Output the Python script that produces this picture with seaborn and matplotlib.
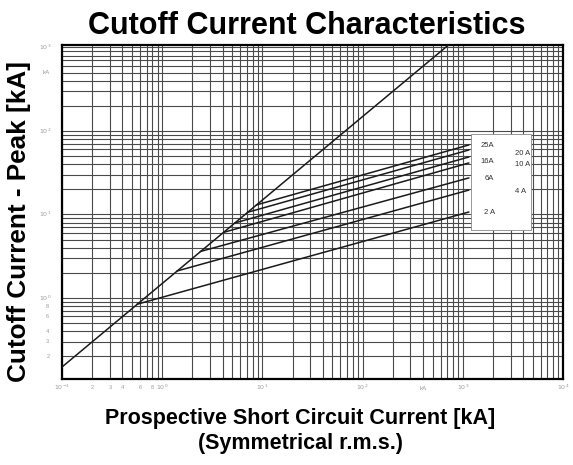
import numpy as np
import pandas as pd
import seaborn as sns
from matplotlib import pyplot as plt
from matplotlib.patches import Rectangle

# fuse ratings and the straight let-through segments
ratings = ["2A", "4A", "6A", "10A", "16A", "20A", "25A"]
knee_current = [0.56, 1.4, 2.4, 4.1, 5.3, 7.1, 8.7]      # kA prospective, where curve leaves the diagonal
knee_peak = [0.84, 2.1, 3.6, 6.1, 7.9, 10.6, 13.0]      # kA peak at that point
end_current = [1150, 1150, 1150, 1150, 1150, 1150, 1150]
end_peak = [10.7, 19.6, 27.4, 41.4, 48.8, 59.2, 68.0]

# maximum (unlimited) peak current line
diag_current = [0.1, 800]
diag_peak = [0.149, 1190]

sns.set_style("white")
plt.rcParams['font.family'] = ['Liberation Sans', 'DejaVu Sans']
plt.rcParams['text.color'] = 'black'

fig = plt.figure(figsize=(5.73, 4.65), dpi=100)
ax = fig.add_axes([62 / 573, 1 - 379 / 465, 501 / 573, 334 / 465])

rows = []
for r, x0, y0, x1, y1 in zip(ratings, knee_current, knee_peak, end_current, end_peak):
    rows.append({"rating": r, "current": x0, "peak": y0})
    rows.append({"rating": r, "current": x1, "peak": y1})
df = pd.DataFrame(rows)

sns.lineplot(data=df, x="current", y="peak", units="rating", estimator=None,
             color="#1a1a1a", lw=1.1, ax=ax, zorder=3)
sns.lineplot(x=diag_current, y=diag_peak, color="#1a1a1a", lw=1.1, ax=ax, zorder=3)

ax.set_xscale("log")
ax.set_yscale("log")
ax.set_xlim(0.1, 1e4)
ax.set_ylim(0.107, 1070)

ax.grid(True, which="both", color="#4a4a4a", lw=0.8, zorder=1)
ax.set_axisbelow(True)
for s in ax.spines.values():
    s.set_color("black")
    s.set_linewidth(1.6)
ax.tick_params(which="both", length=0, labelbottom=False, labelleft=False)
ax.set_xlabel("")
ax.set_ylabel("")

# key box with the ratings
ax.add_patch(Rectangle((0.817, 0.445), 0.12, 0.29, transform=ax.transAxes,
                       facecolor="white", edgecolor="#888888", lw=0.6, zorder=4))
key = {"25A": (0.835, 0.7), "20A": (0.905, 0.675), "16A": (0.835, 0.65),
       "10A": (0.905, 0.642), "6A": (0.843, 0.6), "4A": (0.905, 0.562),
       "2A": (0.843, 0.5)}
for r in ratings:
    kx, ky = key[r]
    ax.text(kx, ky, r.replace("A", " A") if r in ("20A", "10A", "4A", "2A") else r,
            transform=ax.transAxes, fontsize=5.5, color="#333333", zorder=5,
            va="center", ha="left")

# faint scanned tick labels
tick_col = "#9a9a9a"
for e in [-1, 0, 1, 2, 3, 4]:
    ax.text(10.0 ** e, 0.085, "$10^{%d}$" % e, fontsize=4.5, color=tick_col,
            ha="center", va="center", clip_on=False)
for m in [2, 3, 4, 6, 8]:
    ax.text(m * 0.1, 0.085, str(m), fontsize=4, color=tick_col,
            ha="center", va="center", clip_on=False)
ax.text(400, 0.082, "kA", fontsize=4.5, color=tick_col, ha="center", va="center", clip_on=False)
for e in [0, 1, 2, 3]:
    ax.text(0.068, 10.0 ** e, "$10^{%d}$" % e, fontsize=4.5, color=tick_col,
            ha="center", va="center", clip_on=False)
for m in [8, 6, 4, 3, 2]:
    ax.text(0.072, m * 0.1, str(m), fontsize=4, color=tick_col,
            ha="center", va="center", clip_on=False)
ax.text(0.07, 500, "kA", fontsize=4.5, color=tick_col, ha="center", va="center", clip_on=False)

fig.text(307 / 573, 1 - 26 / 465, "Cutoff Current Characteristics", fontsize=22,
         fontweight="bold", ha="center", va="center")
fig.text(19 / 573, 1 - 222 / 465, "Cutoff Current - Peak [kA]", rotation=90,
         fontsize=18.8, fontweight="bold", ha="center", va="center")
fig.text(300 / 573, 1 - 418 / 465, "Prospective Short Circuit Current [kA]",
         fontsize=15.5, fontweight="bold", ha="center", va="center")
fig.text(300 / 573, 1 - 443 / 465, "(Symmetrical r.m.s.)",
         fontsize=15.5, fontweight="bold", ha="center", va="center")

fig.savefig("out.png", dpi=100)
